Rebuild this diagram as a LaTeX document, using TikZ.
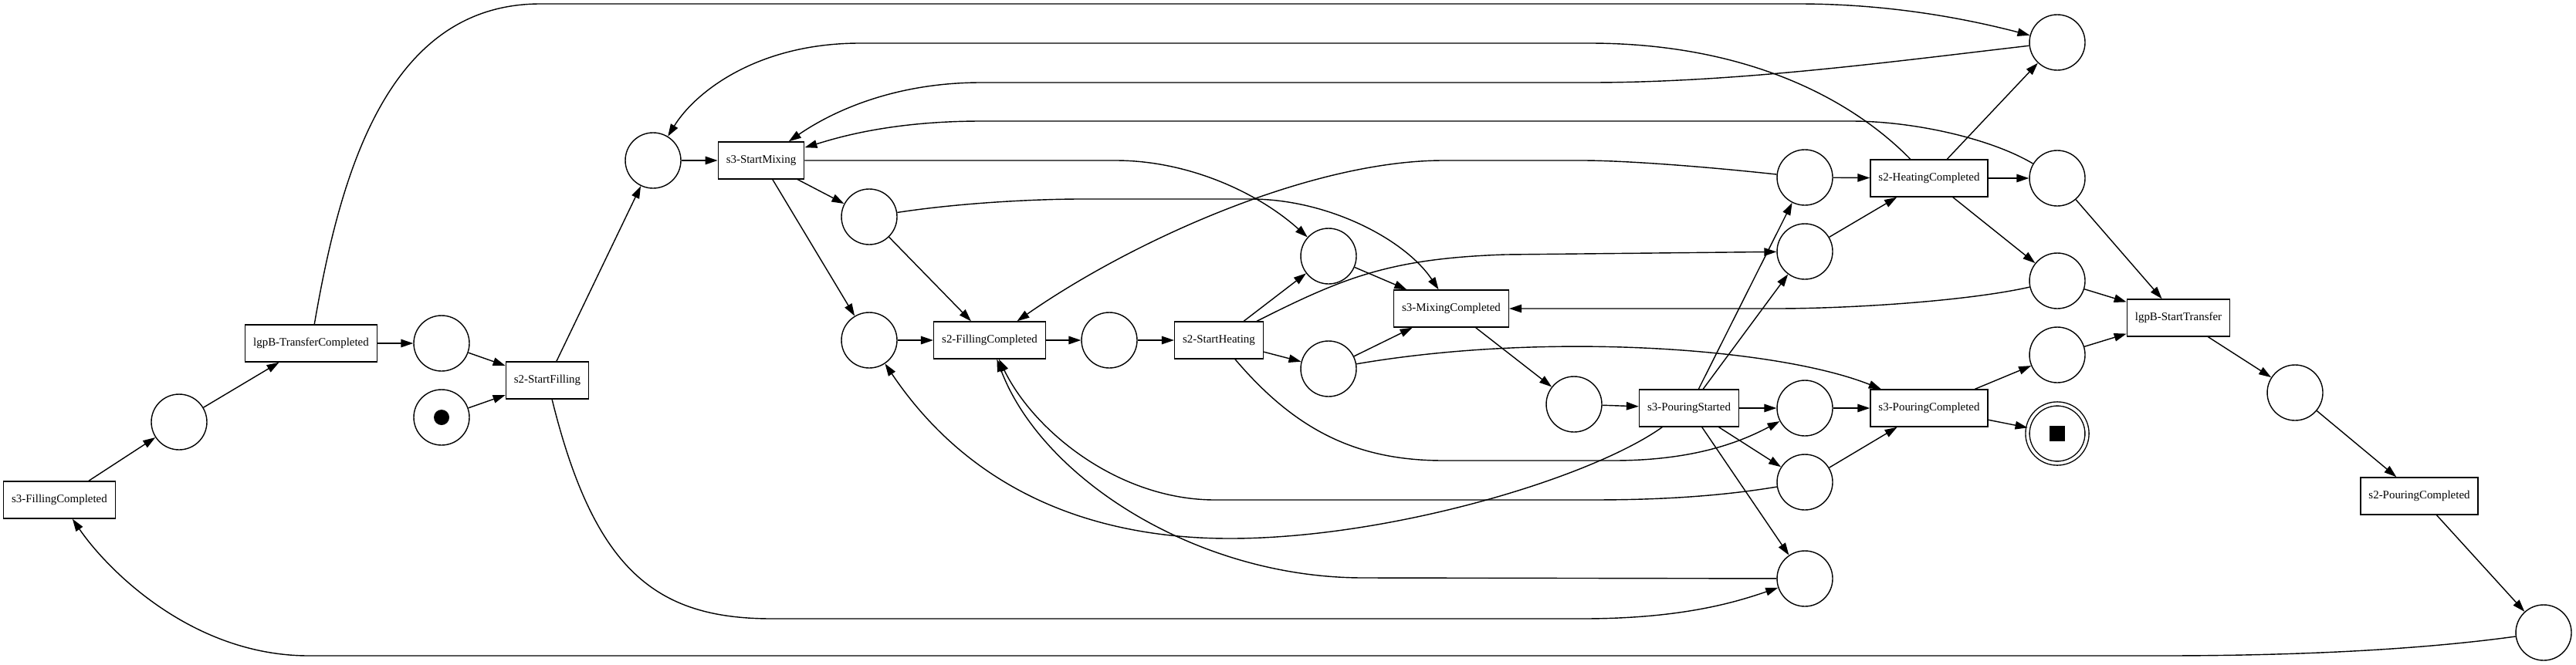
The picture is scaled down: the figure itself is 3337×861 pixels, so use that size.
\documentclass[tikz,border=0pt]{standalone}
\usepackage{fontspec}
\setmainfont{Liberation Serif}
\usetikzlibrary{arrows.meta}

\tikzset{
  pnode/.style={circle, draw, line width=0.8pt, minimum size=14.4mm, inner sep=0pt},
  tnode/.style={rectangle, draw, line width=0.8pt, minimum height=9.6mm, inner xsep=2.1mm, font=\fontsize{8.5}{10}\selectfont},
  flow/.style={line width=0.8pt, -{Triangle[length=3.2mm, width=2.1mm]}},
}

\begin{document}
\begin{tikzpicture}[x=0.2mm, y=-0.2mm]
\path[fill=white, use as bounding box] (0,0) rectangle (3337,861);

% transitions
\node[tnode] (tFill3) at (77,648) {s3-FillingCompleted};
\node[tnode] (tTransDone) at (403,445) {lgpB-TransferCompleted};
\node[tnode] (tStartFill) at (709,493) {s2-StartFilling};
\node[tnode] (tStartMix) at (986,208) {s3-StartMixing};
\node[tnode] (tFill2) at (1282,441) {s2-FillingCompleted};
\node[tnode] (tStartHeat) at (1579,441) {s2-StartHeating};
\node[tnode] (tMixDone) at (1880,400) {s3-MixingCompleted};
\node[tnode] (tPourStart) at (2188,529) {s3-PouringStarted};
\node[tnode] (tHeatDone) at (2499,231) {s2-HeatingCompleted};
\node[tnode] (tPour3) at (2499,529) {s3-PouringCompleted};
\node[tnode] (tStartTrans) at (2822,412) {lgpB-StartTransfer};
\node[tnode] (tPour2) at (3134,643) {s2-PouringCompleted};

% places
\node[pnode] (p1) at (232,547) {};
\node[pnode] (p2) at (572,445) {};
\node[pnode] (pinit) at (572,541) {};
\fill (pinit) circle (2mm);
\node[pnode] (p3) at (846,208) {};
\node[pnode] (p4) at (1126,281) {};
\node[pnode] (p5) at (1126,441) {};
\node[pnode] (p6) at (1437,441) {};
\node[pnode] (p7) at (1721,332) {};
\node[pnode] (p8) at (1721,478) {};
\node[pnode] (p9) at (2039,524) {};
\node[pnode] (p10) at (2338,230) {};
\node[pnode] (p11) at (2338,326) {};
\node[pnode] (p12) at (2338,529) {};
\node[pnode] (p13) at (2338,625) {};
\node[pnode] (p14) at (2338,750) {};
\node[pnode] (p15) at (2665,55) {};
\node[pnode] (p16) at (2665,231) {};
\node[pnode] (p17) at (2665,364) {};
\node[pnode] (p18) at (2665,460) {};
\node[pnode, minimum size=15.4mm, double, double distance=0.75mm] (pfin) at (2665,562) {\rule{4mm}{4mm}};
\node[pnode] (p19) at (2973,509) {};
\node[pnode] (p20) at (3295,820) {};

% straight arcs
\draw[flow] (tFill3) -- (p1);
\draw[flow] (p1) -- (tTransDone);
\draw[flow] (tTransDone) -- (p2);
\draw[flow] (p2) -- (tStartFill);
\draw[flow] (pinit) -- (tStartFill);
\draw[flow] (tStartFill) -- (p3);
\draw[flow] (p3) -- (tStartMix);
\draw[flow] (tStartMix) -- (p4);
\draw[flow] (tStartMix) -- (p5);
\draw[flow] (p4) -- (tFill2);
\draw[flow] (p5) -- (tFill2);
\draw[flow] (tFill2) -- (p6);
\draw[flow] (p6) -- (tStartHeat);
\draw[flow] (tStartHeat) -- (p7);
\draw[flow] (tStartHeat) -- (p8);
\draw[flow] (p7) -- (tMixDone);
\draw[flow] (p8) -- (tMixDone);
\draw[flow] (tMixDone) -- (p9);
\draw[flow] (p9) -- (tPourStart);
\draw[flow] (tPourStart) -- (p10);
\draw[flow] (tPourStart) -- (p11);
\draw[flow] (tPourStart) -- (p12);
\draw[flow] (tPourStart) -- (p13);
\draw[flow] (tPourStart) -- (p14);
\draw[flow] (p10) -- (tHeatDone);
\draw[flow] (p11) -- (tHeatDone);
\draw[flow] (tHeatDone) -- (p15);
\draw[flow] (tHeatDone) -- (p16);
\draw[flow] (tHeatDone) -- (p17);
\draw[flow] (p12) -- (tPour3);
\draw[flow] (p13) -- (tPour3);
\draw[flow] (tPour3) -- (p18);
\draw[flow] (tPour3) -- (pfin);
\draw[flow] (p16) -- (tStartTrans);
\draw[flow] (p17) -- (tStartTrans);
\draw[flow] (p18) -- (tStartTrans);
\draw[flow] (tStartTrans) -- (p19);
\draw[flow] (p19) -- (tPour2);
\draw[flow] (tPour2) -- (p20);

% curved arcs
\draw[flow] (tTransDone) .. controls (440,230) and (500,5) .. (700,5) -- (2330,5) .. controls (2450,5) and (2550,25) .. (p15);
\draw[flow] (tStartFill) .. controls (770,740) and (850,802) .. (1000,802) -- (2050,802) .. controls (2180,802) and (2250,780) .. (p14);
\draw[flow] (tHeatDone) .. controls (2390,120) and (2250,56) .. (2059,56) -- (1114,56) .. controls (980,56) and (900,120) .. (p3);
\draw[flow] (p15) .. controls (2450,80) and (2250,107) .. (2059,107) -- (1271,107) .. controls (1150,107) and (1070,150) .. (tStartMix);
\draw[flow] (p16) .. controls (2580,180) and (2480,157) .. (2398,157) -- (1271,157) .. controls (1150,157) and (1080,180) .. (tStartMix);
\draw[flow] (tStartMix) -- (1445,208) .. controls (1540,208) and (1630,250) .. (p7);
\draw[flow] (p4) .. controls (1250,262) and (1350,258) .. (1400,258) -- (1620,258) .. controls (1720,258) and (1820,310) .. (tMixDone);
\draw[flow] (p10) .. controls (2200,215) and (2100,208) .. (2050,208) -- (1870,208) .. controls (1700,208) and (1470,310) .. (tFill2);
\draw[flow] (tStartHeat) .. controls (1740,360) and (1800,335) .. (1950,330) -- (p11);
\draw[flow] (tStartHeat) .. controls (1680,560) and (1760,597) .. (1870,597) -- (2090,597) .. controls (2200,597) and (2260,570) .. (p12);
\draw[flow] (p8) .. controls (2000,430) and (2300,450) .. (tPour3);
\draw[flow] (p17) .. controls (2550,390) and (2400,400) .. (2300,400) -- (tMixDone);
\draw[flow] (tPourStart) .. controls (2060,620) and (1800,698) .. (1593,698) .. controls (1420,698) and (1260,640) .. (p5);
\draw[flow] (p13) .. controls (2200,648) and (2100,648) .. (2053,648) -- (1574,648) .. controls (1450,648) and (1340,560) .. (tFill2);
\draw[flow] (p14) -- (1766,749) .. controls (1550,749) and (1350,620) .. (tFill2);
\draw[flow] (p20) .. controls (3150,840) and (3000,850) .. (2800,850) -- (400,850) .. controls (250,850) and (140,740) .. (tFill3);
\end{tikzpicture}
\end{document}
